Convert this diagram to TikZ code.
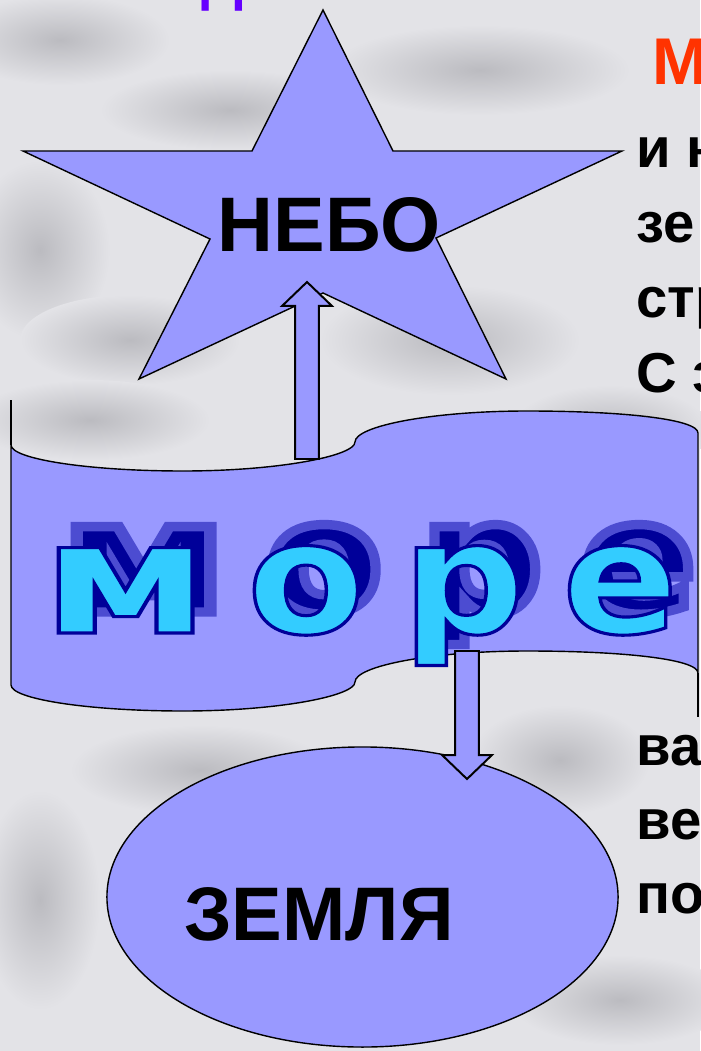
\documentclass[tikz,border=0pt]{standalone}
\usepackage{fontspec}
\setmainfont{Liberation Sans}
\newfontfamily\seafont{DejaVu Sans Bold}[FakeBold=2]
\newfontfamily\shadowfont{DejaVu Sans Bold}[FakeBold=6]
\usetikzlibrary{shapes.geometric,calc}
\definecolor{bgbase}{HTML}{E3E3E7}
\definecolor{bgdark}{HTML}{BBBBC0}
\definecolor{shapefill}{HTML}{9999FF}
\definecolor{titlepurple}{HTML}{6600FF}
\definecolor{headred}{HTML}{FF3300}
% letters of the word, spread out
\newcommand{\seatext}{\scalebox{1.1}[1]{\scalebox{1.2}[1]{м}\hspace{24pt}о\hspace{24pt}р\hspace{24pt}е}}

\begin{document}
\begin{tikzpicture}[x=0.025cm,y=-0.025cm,
    shp/.style={draw=black,line width=1pt,fill=shapefill},
    arr/.style={draw=black,line width=1.4pt,fill=shapefill,line join=miter},
    big/.style={inner sep=0,font=\bfseries\fontsize{55}{55}\selectfont},
    side/.style={inner sep=0,anchor=base west,font=\bfseries\fontsize{40}{40}\selectfont},
    word/.style={inner sep=0,anchor=base,font=\fontsize{111}{111}\selectfont}]
\useasboundingbox (0,0) rectangle (700,1051);
\fill[bgbase] (0,0) rectangle (700,1051);
% cloudy backdrop
\foreach \x/\y/\rx/\ry in {60/40/110/45, 230/110/130/40, 480/70/150/45, 40/250/70/90,
    130/340/110/45, 450/340/130/55, 610/430/100/45, 90/420/120/40,
    560/760/90/55, 200/770/130/45, 40/900/60/110, 620/1000/110/45} {
    \shade[inner color=bgdark,outer color=bgbase] (\x,\y) ellipse[x radius=\rx,y radius=\ry];
}
\node[anchor=base,inner sep=0,text=titlepurple,font=\bfseries\fontsize{42}{42}\selectfont] (title) at (223,0) {Д};
% star
\draw[shp] (323,10) -- (393,151) -- (622,151) -- (436,238) -- (506,379) -- (323,293)
    -- (139,379) -- (210,239) -- (23,151) -- (252,151) -- cycle;
\node[big,anchor=base] (sky) at (329.5,251) {НЕБО};
% sea band
\draw[shp] (11,445) .. controls (11,459) and (88,471) .. (183,471)
    .. controls (278,471) and (355,456) .. (355,442)
    .. controls (355,426) and (432,411) .. (527,411)
    .. controls (622,411) and (698,419) .. (698,433) -- (698,673)
    .. controls (698,659) and (622,651) .. (527,651)
    .. controls (432,651) and (355,666) .. (355,682)
    .. controls (355,696) and (278,711) .. (183,711)
    .. controls (88,711) and (11,699) .. (11,685) -- cycle;
\draw[line width=1pt] (11,400) -- (11,445) (698,673) -- (698,717);
\node[word,font=\shadowfont\fontsize{111}{111}\selectfont] (seashadow) at (378,612)
    {\special{pdf:bcolor [0 0 0.6] [0.3 0.3 0.82]}\seatext\special{pdf:ecolor}};
\node[word,font=\seafont\fontsize{111}{111}\selectfont] (sea) at (360,633)
    {\special{pdf:bcolor [0.2 0.8 1] [0 0 0.6]}\seatext\special{pdf:ecolor}};
% earth
\node[shp,ellipse,inner sep=0,minimum width=12.775cm,minimum height=7.5cm] (earth) at (362.5,897) {};
\node[big,anchor=base,font=\bfseries\fontsize{54}{54}\selectfont] (earthlbl) at (319,940) {ЗЕМЛЯ};
% block arrows
\coordinate (upfoot) at (307,459);
\coordinate (uptip) at (307,282);
\coordinate (downfoot) at (467,651);
\coordinate (downtip) at (467,779);
\foreach \a/\b in {upfoot/uptip, downfoot/downtip} {
    \draw[arr] let \p1=(\a), \p2=(\b), \n1={sign(\y2-\y1)} in
        (\x1-8.5pt,\y1) -- (\x1-8.5pt,\y2-\n1*17pt) -- (\x1-17.7pt,\y2-\n1*17pt) -- (\x2,\y2)
        -- (\x1+17.7pt,\y2-\n1*17pt) -- (\x1+8.5pt,\y2-\n1*17pt) -- (\x1+8.5pt,\y1) -- cycle;
}
% text on the right
\node[side,text=headred,font=\bfseries\fontsize{47}{47}\selectfont] (head) at (652,85) {М};
\foreach \t [count=\i from 0] in {и н, зе, стр, С з} {
    \node[side] (top\i) at (636,167+75*\i) {\t};
}
\foreach \t [count=\i from 0] in {ва, ве, по} {
    \node[side] (low\i) at (636,765+74*\i) {\t};
}
\end{tikzpicture}
\end{document}
